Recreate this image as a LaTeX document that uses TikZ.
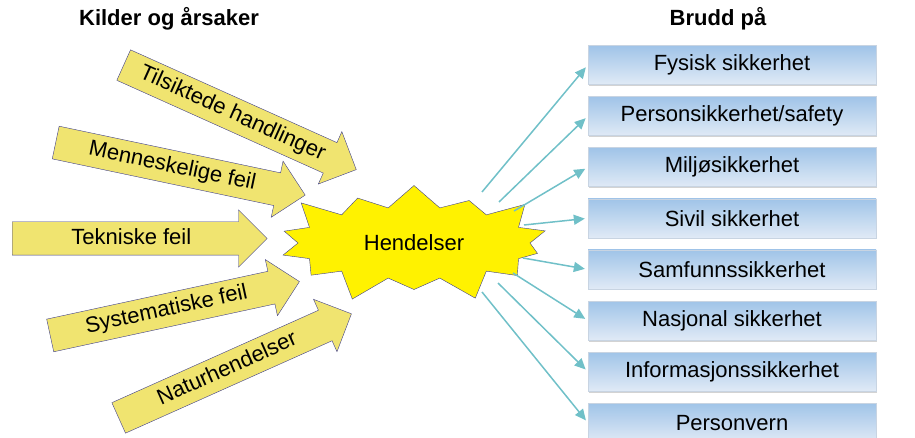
\documentclass[tikz,border=0pt]{standalone}
\usepackage{fontspec}
\setmainfont{Liberation Sans}
\usepackage{xcolor}
\usepackage{tikz}
\usetikzlibrary{positioning,arrows.meta,shapes.arrows,shapes.symbols,shadows}

\definecolor{srcyellow}{RGB}{240,228,112}
\definecolor{srcedge}{RGB}{62,62,140}
\definecolor{boxtop}{RGB}{160,196,232}
\definecolor{boxbottom}{RGB}{224,234,246}
\definecolor{boxedge}{RGB}{200,212,226}
\definecolor{linkteal}{RGB}{112,192,200}

\begin{document}
\begin{tikzpicture}[
    x=1pt,y=-1pt,
    src/.style={single arrow,draw=srcedge,fill=srcyellow,anchor=tail,
      single arrow head extend=12pt,single arrow tip angle=90,
      minimum height=255pt,text height=16pt,text depth=5pt,inner ysep=6pt,
      font=\fontsize{22}{26}\selectfont},
    burst/.style={starburst,starburst points=14,starburst point height=30pt,
      draw=srcedge,fill=yellow,minimum width=292pt,minimum height=132pt,
      font=\fontsize{22}{26}\selectfont},
    box/.style={draw=boxedge,top color=boxtop,bottom color=boxbottom,
      minimum width=288pt,minimum height=39pt,inner sep=0pt,
      drop shadow={shadow xshift=1pt,shadow yshift=-1.5pt,opacity=0.35},
      font=\fontsize{22}{26}\selectfont},
    head/.style={font=\fontsize{22}{26}\selectfont\bfseries},
    link/.style={draw=linkteal,line width=1.5pt,shorten >=3pt,
      -{Triangle[length=11pt,width=10pt]}},
    node distance=11.7pt
  ]
    \useasboundingbox (0,0) rectangle (915,438);

    % overskrifter
    \node[head] (kilder) at (169,19) {Kilder og årsaker};
    \node[head] (brudd) at (718,19) {Brudd på};

    % kilder
    \node[src,rotate=-24.2] (tilsikt) at (123.5,65) {Tilsiktede handlinger};
    \node[src,rotate=-11.9] (mennesk) at (55.5,142.5) {Menneskelige feil};
    \node[src] (tekn) at (12,238.5) {Tekniske feil};
    \node[src,rotate=12.2] (system) at (50,335.5) {Systematiske feil};
    \node[src,rotate=24.1] (natur) at (118.5,418) {Naturhendelser};

    \node[burst] (hend) at (414,243) {Hendelser};

    % brudd
    \node[box] (fysisk) at (732,65) {Fysisk sikkerhet};
    \node[box,below=of fysisk] (person) {Personsikkerhet/safety};
    \node[box,below=of person] (miljo) {Miljøsikkerhet};
    \node[box,below=of miljo] (sivil) {Sivil sikkerhet};
    \node[box,below=of sivil] (samf) {Samfunnssikkerhet};
    \node[box,below=of samf] (nasj) {Nasjonal sikkerhet};
    \node[box,below=of nasj] (info) {Informasjonssikkerhet};
    \node[box,below=of info] (pvern) {Personvern};

    \coordinate (s1) at (482,192);
    \coordinate (s2) at (499,202);
    \coordinate (s3) at (514,211);
    \coordinate (s4) at (524,225);
    \coordinate (s5) at (523,258);
    \coordinate (s6) at (513,273);
    \coordinate (s7) at (498,283);
    \coordinate (s8) at (482,292);

    \draw[link] (s1) -- (fysisk.west);
    \draw[link] (s2) -- (person.west);
    \draw[link] (s3) -- (miljo.west);
    \draw[link] (s4) -- (sivil.west);
    \draw[link] (s5) -- (samf.west);
    \draw[link] (s6) -- (nasj.west);
    \draw[link] (s7) -- (info.west);
    \draw[link] (s8) -- (pvern.west);
  \end{tikzpicture}
\end{document}
